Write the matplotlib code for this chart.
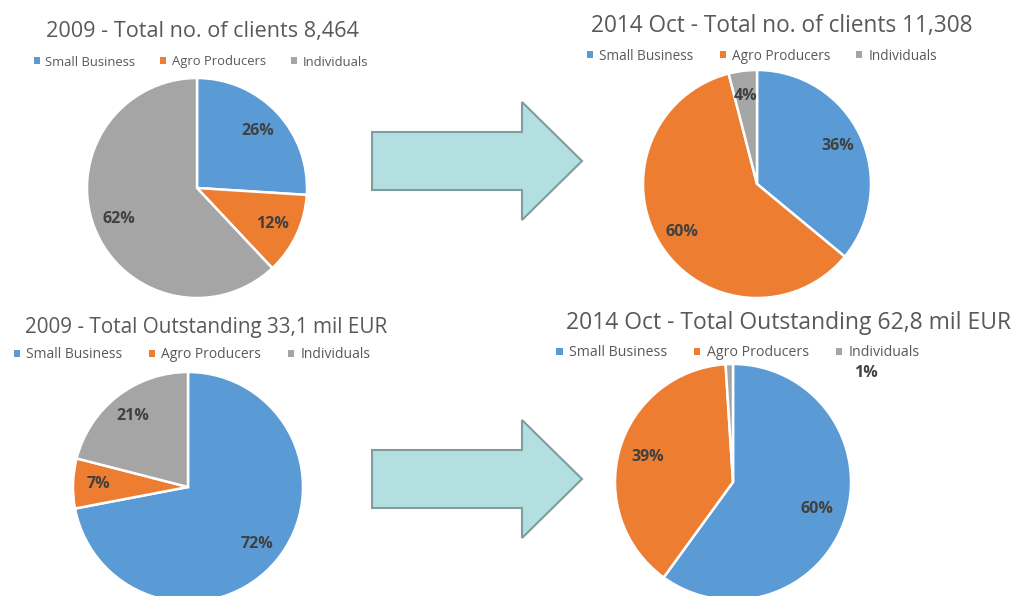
import matplotlib
matplotlib.use("Agg")
import matplotlib.pyplot as plt
from matplotlib.patches import FancyArrow, Patch

plt.rcParams['font.family'] = ['Open Sans', 'DejaVu Sans']

# portfolio split by client segment, in percent
segments = ["Small Business", "Agro Producers", "Individuals"]
clients_2009 = [26, 12, 62]
clients_2014 = [36, 60, 4]
outstanding_2009 = [72, 7, 21]
outstanding_2014 = [60, 39, 1]

titles = [
    "2009 - Total no. of clients 8,464",
    "2014 Oct - Total no. of clients 11,308",
    "2009 - Total Outstanding 33,1 mil EUR",
    "2014 Oct - Total Outstanding 62,8 mil EUR",
]

colors = ["#5b9bd5", "#ed7d31", "#a5a5a5"]
W, H = 1017, 596
fig = plt.figure(figsize=(W / 100, H / 100), dpi=100)
fig.patch.set_facecolor("white")


def px_axes(cx, cy, r):
    # square axes centred on a pixel position, radius r in pixels
    return fig.add_axes([(cx - r) / W, 1 - (cy + r) / H, 2 * r / W, 2 * r / H])


def draw_pie(values, title, cx, cy, r, title_xy, title_fs, legend_xy, legend_fs, pctdist):
    ax = px_axes(cx, cy, r)
    wedges, _, autotexts = ax.pie(
        values, colors=colors, startangle=90, counterclock=False,
        autopct="%d%%", pctdistance=pctdist,
        wedgeprops=dict(edgecolor="white", linewidth=1.8),
        textprops=dict(color="#404040", fontsize=11.5, fontweight="bold"))
    ax.set_xlim(-1, 1)
    ax.set_ylim(-1, 1)
    fig.text(title_xy[0] / W, 1 - title_xy[1] / H, title, ha="center",
             va="center", fontsize=title_fs, color="#595959")
    handles = [Patch(facecolor=c, edgecolor="none") for c in colors]
    fig.legend(handles, segments, loc="center",
               bbox_to_anchor=(legend_xy[0] / W, 1 - legend_xy[1] / H),
               ncol=3, frameon=False, fontsize=legend_fs, labelcolor="#595959",
               handlelength=0.45, handleheight=0.45, handletextpad=0.45,
               columnspacing=1.9, borderpad=0)
    return ax, autotexts


draw_pie(clients_2009, titles[0], 197, 188, 110, (202, 32), 15.6, (201, 62), 9.4, 0.76)
draw_pie(clients_2014, titles[1], 757, 184, 114, (782, 26), 16.3, (762, 56), 9.8, 0.78)
draw_pie(outstanding_2009, titles[2], 188, 487, 115, (206, 327), 14.9, (192, 355), 10.0, 0.78)
ax4, pct4 = draw_pie(outstanding_2014, titles[3], 733, 482, 118,
                     (789, 323), 16.5, (738, 353), 10.2, 0.75)
# the tiny slice gets its label outside the pie
pct4[2].set_position((1.13, 0.92))

# transition arrows between the two years
overlay = fig.add_axes([0, 0, 1, 1], zorder=-1)
overlay.set_xlim(0, W)
overlay.set_ylim(H, 0)
overlay.axis("off")
for y in (161, 479):
    overlay.add_patch(FancyArrow(372, y, 210, 0, width=58, head_width=118,
                                 head_length=60, length_includes_head=True,
                                 facecolor="#b4dfe0", edgecolor="#7f9c9e",
                                 linewidth=1.5))

fig.savefig("out.png", dpi=100)
